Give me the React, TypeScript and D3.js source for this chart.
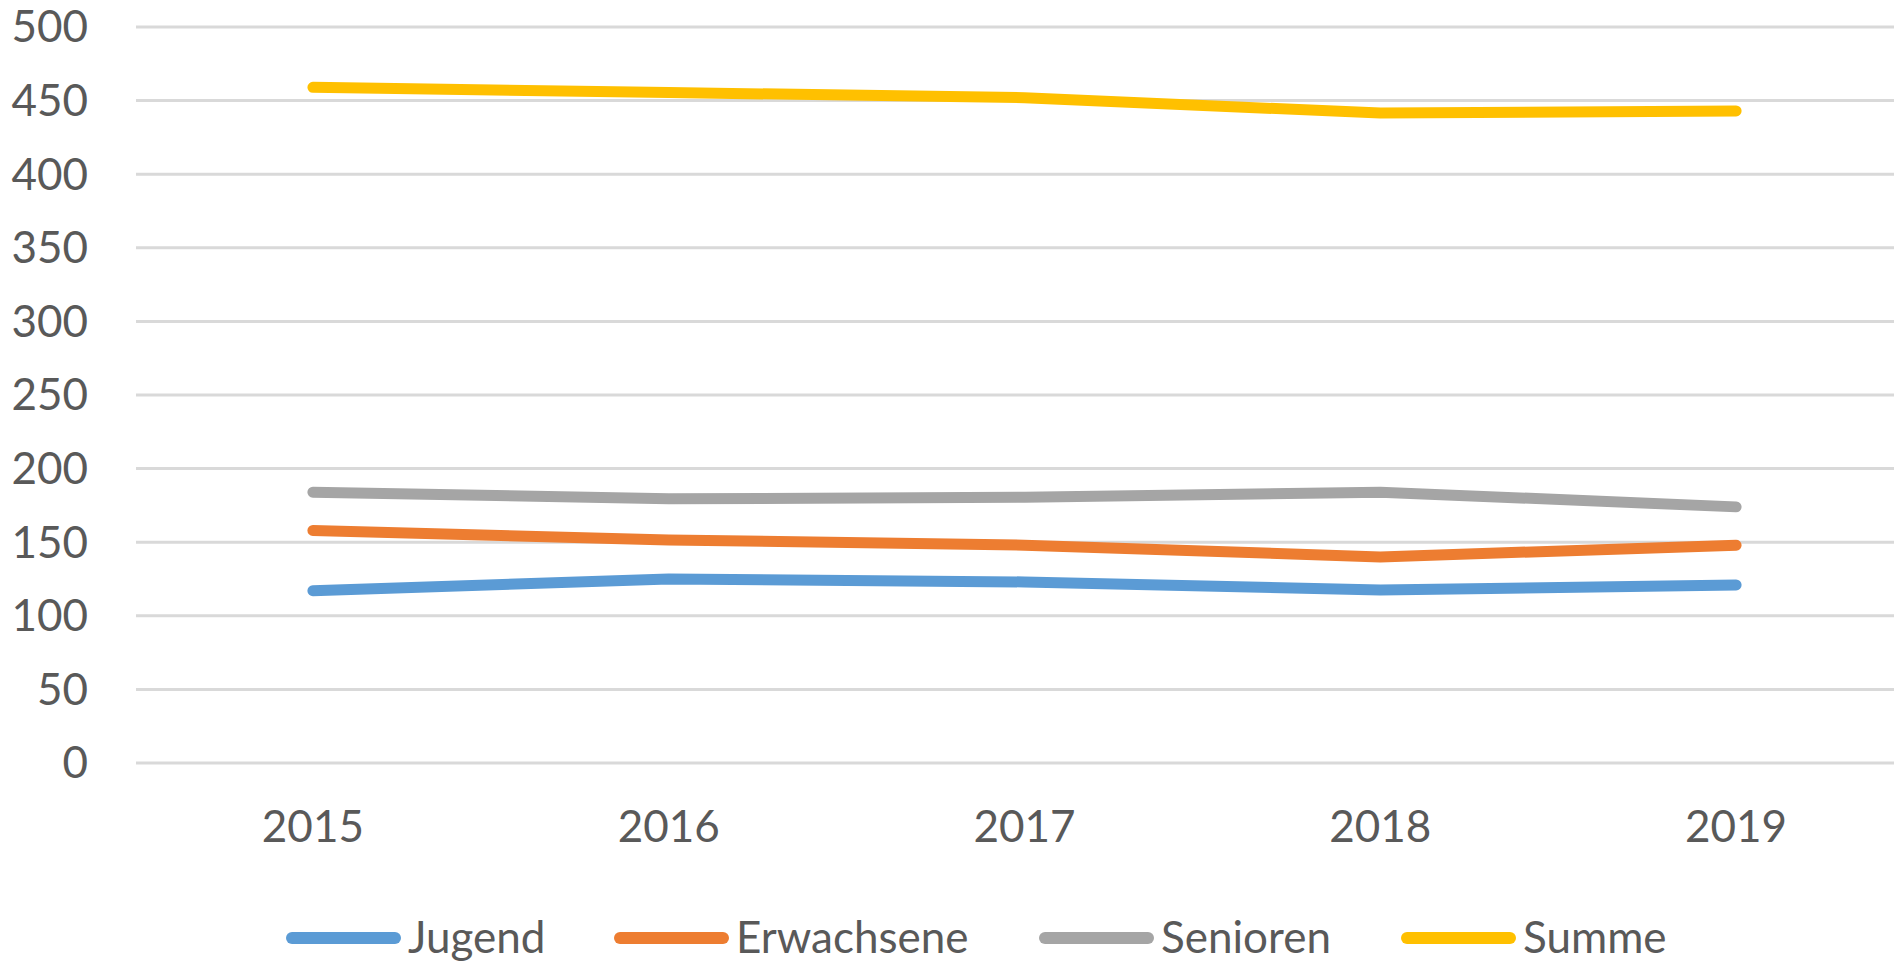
import React, { useEffect, useRef } from "react";
import * as d3 from "d3";

const years = ["2015", "2016", "2017", "2018", "2019"];
const yTicks = [0, 50, 100, 150, 200, 250, 300, 350, 400, 450, 500];

const jugend = [117, 125, 123, 117.5, 121];
const erwachsene = [158, 151.5, 148, 140, 148];
const senioren = [184, 179.5, 180.5, 184, 174];
const summe = [459, 455.5, 452, 441.5, 443];

const seriesNames = ["Jugend", "Erwachsene", "Senioren", "Summe"];
const seriesColors = ["#5b9bd5", "#ed7d31", "#a5a5a5", "#ffc000"];

const App = () => {
  const svgRef = useRef<SVGSVGElement>(null);

  useEffect(() => {
    const width = 1894;
    const height = 962;
    const font = "Lato, 'Open Sans', sans-serif";

    const svg = d3.select(svgRef.current);
    svg.selectAll("*").remove();

    const xScale = d3.scalePoint().domain(years).range([135, 1914]).padding(0.5);
    const yScale = d3.scaleLinear().domain([0, 500]).range([763, 27]);

    // gridlines
    svg
      .append("g")
      .selectAll("line")
      .data(yTicks)
      .enter()
      .append("line")
      .attr("x1", 136)
      .attr("x2", 1914)
      .attr("y1", (d) => yScale(d))
      .attr("y2", (d) => yScale(d))
      .attr("stroke", "#d9d9d9")
      .attr("stroke-width", 3);

    // y labels
    svg
      .append("g")
      .selectAll("text")
      .data(yTicks)
      .enter()
      .append("text")
      .attr("x", 88)
      .attr("y", (d) => yScale(d))
      .attr("dy", "0.35em")
      .attr("text-anchor", "end")
      .style("font-family", font)
      .style("font-size", "44px")
      .style("fill", "#595959")
      .text((d) => d);

    // x labels
    svg
      .append("g")
      .selectAll("text")
      .data(years)
      .enter()
      .append("text")
      .attr("x", (d) => xScale(d)!)
      .attr("y", 842)
      .attr("text-anchor", "middle")
      .style("font-family", font)
      .style("font-size", "44px")
      .style("fill", "#595959")
      .text((d) => d);

    const allSeries = [jugend, erwachsene, senioren, summe];

    const line = d3
      .line<number>()
      .x((d, i) => xScale(years[i])!)
      .y((d) => yScale(d));

    allSeries.forEach((values, i) => {
      svg
        .append("path")
        .datum(values)
        .attr("fill", "none")
        .attr("stroke", seriesColors[i])
        .attr("stroke-width", 11)
        .attr("stroke-linecap", "round")
        .attr("stroke-linejoin", "round")
        .attr("d", line);
    });

    // legend
    const legendX = [286, 614, 1039, 1401];
    const legend = svg
      .append("g")
      .selectAll("g")
      .data(seriesNames)
      .enter()
      .append("g")
      .attr("transform", (d, i) => `translate(${legendX[i]},938)`);

    legend
      .append("line")
      .attr("x1", 6)
      .attr("x2", 109)
      .attr("y1", 0)
      .attr("y2", 0)
      .attr("stroke", (d, i) => seriesColors[i])
      .attr("stroke-width", 12)
      .attr("stroke-linecap", "round");

    legend
      .append("text")
      .attr("x", 122)
      .attr("y", 15)
      .style("font-family", font)
      .style("font-size", "44px")
      .style("fill", "#595959")
      .text((d) => d);

    svg.attr("width", width).attr("height", height);
  }, []);

  return (
    <svg
      ref={svgRef}
      width={1894}
      height={962}
      style={{ position: "absolute", left: 0, top: 0, background: "#fff", display: "block" }}
    />
  );
};

export default App;
